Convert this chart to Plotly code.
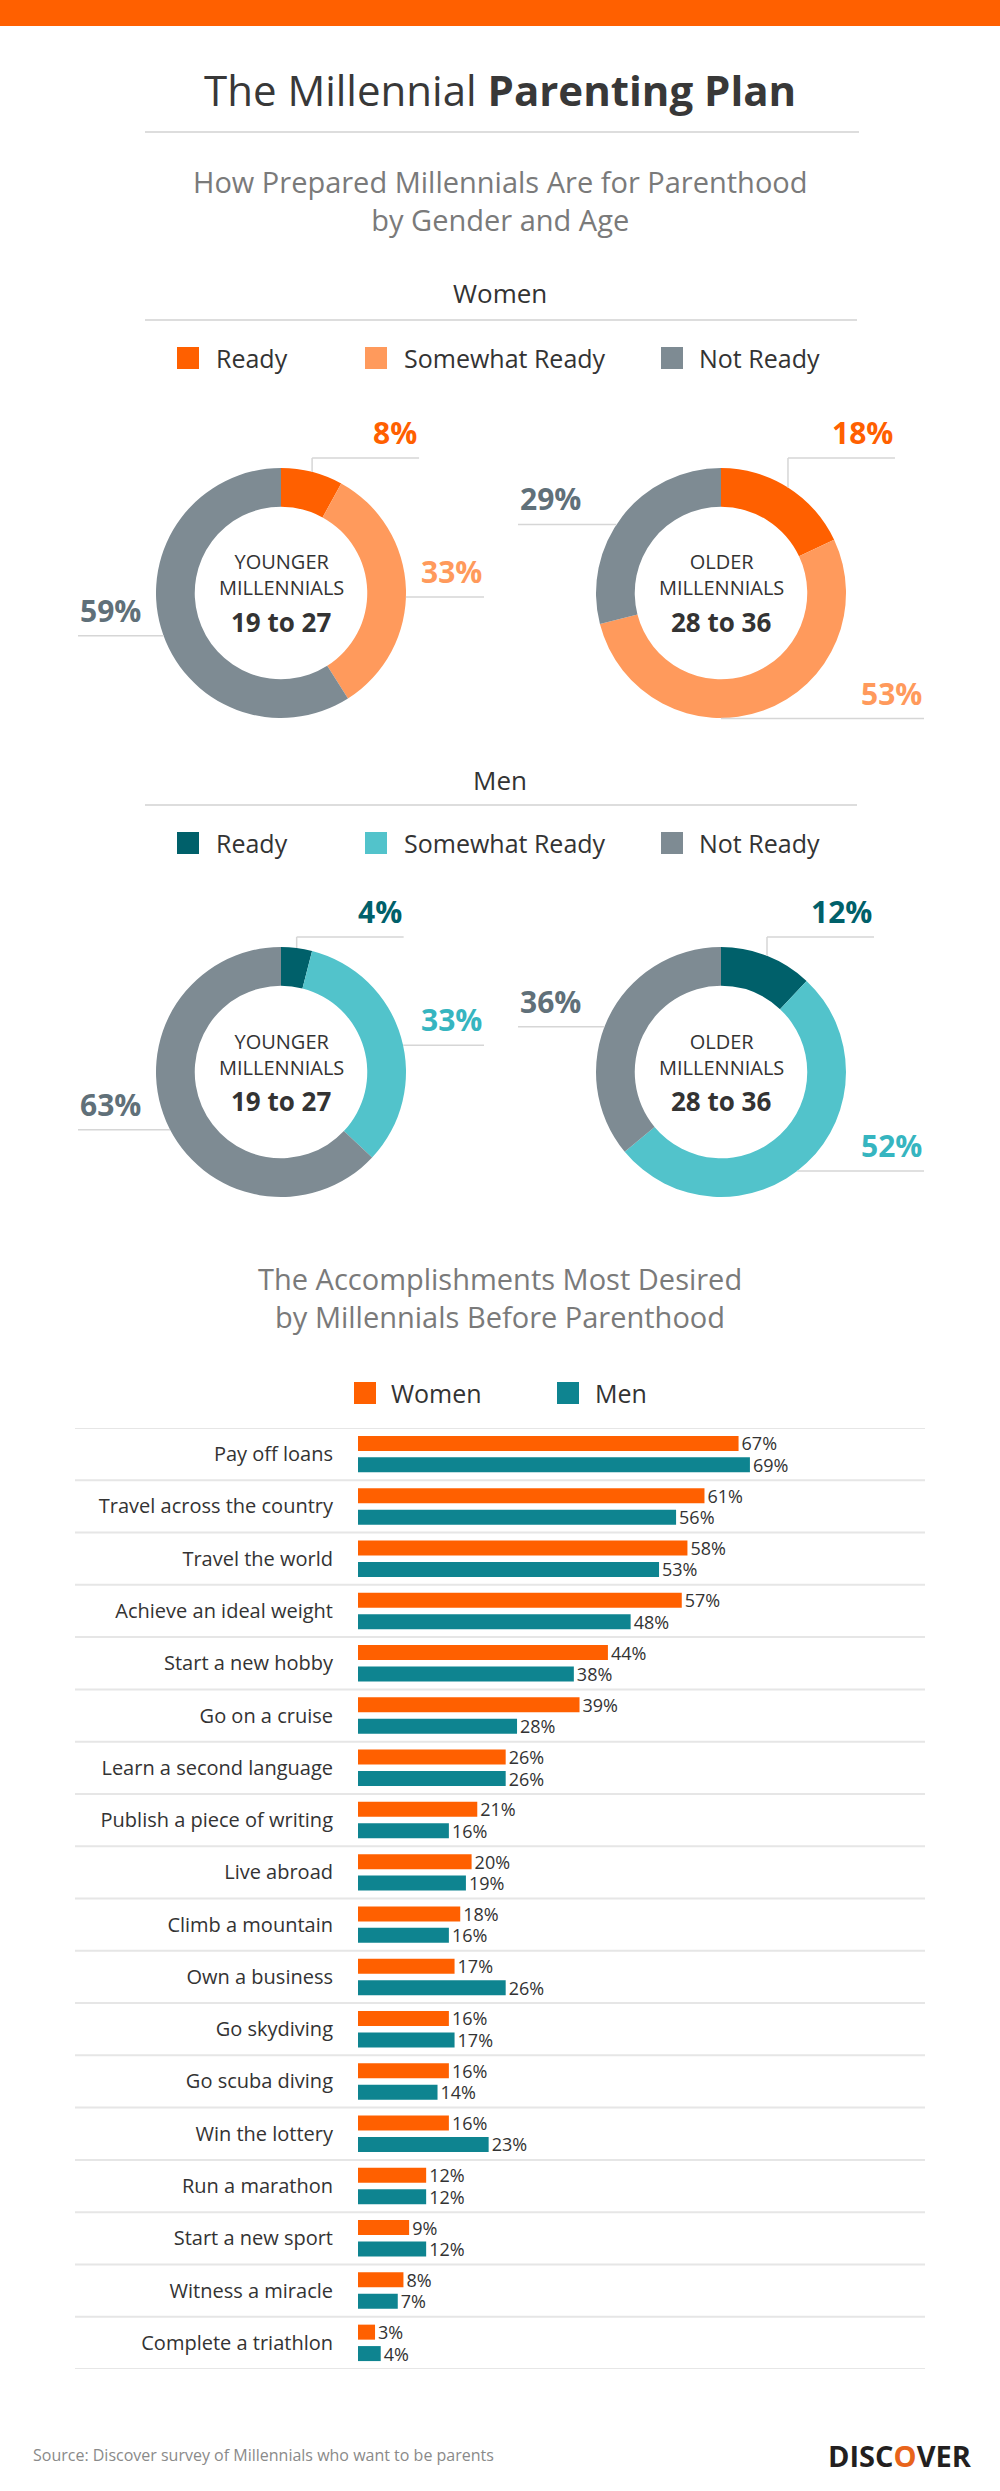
import math
import plotly.graph_objects as go

W, H = 1000, 2491

# ---------------- data ----------------
readiness = ["Ready", "Somewhat Ready", "Not Ready"]
women_younger = [8, 33, 59]
women_older = [18, 53, 29]
men_younger = [4, 33, 63]
men_older = [12, 52, 36]
group_names = ["YOUNGER<br>MILLENNIALS", "OLDER<br>MILLENNIALS"]
group_ages = ["19 to 27", "28 to 36"]

accomplishments = [
    "Pay off loans", "Travel across the country", "Travel the world",
    "Achieve an ideal weight", "Start a new hobby", "Go on a cruise",
    "Learn a second language", "Publish a piece of writing", "Live abroad",
    "Climb a mountain", "Own a business", "Go skydiving", "Go scuba diving",
    "Win the lottery", "Run a marathon", "Start a new sport",
    "Witness a miracle", "Complete a triathlon",
]
women_pct = [67, 61, 58, 57, 44, 39, 26, 21, 20, 18, 17, 16, 16, 16, 12, 9, 8, 3]
men_pct = [69, 56, 53, 48, 38, 28, 26, 16, 19, 16, 26, 17, 14, 23, 12, 12, 7, 4]

# ---------------- styles ----------------
FONT = "Open Sans"
ORANGE = "#FF6000"
ORANGE_LIGHT = "#FF9A5C"
GRAY = "#7E8B93"
GRAY_TEXT = "#607079"
TEAL_DARK = "#00606A"
TEAL_LIGHT = "#52C3CB"
TEAL_LIGHT_TEXT = "#36B5C0"
BAR_TEAL = "#0E8490"
DARK = "#333333"
MID = "#7A7A7A"
RULE = "#DDDDDD"
LEADER = "#D6D6D6"

women_colors = [ORANGE, ORANGE_LIGHT, GRAY]
women_text = [ORANGE, ORANGE_LIGHT, GRAY_TEXT]
men_colors = [TEAL_DARK, TEAL_LIGHT, GRAY]
men_text = [TEAL_DARK, TEAL_LIGHT_TEXT, GRAY_TEXT]


def px(x):
    return x / W


def py(y):
    return 1 - y / H


fig = go.Figure()
shapes = []
ann = []


def text(x, y, s, size, color=DARK, xanchor="center", yanchor="middle", family=FONT):
    ann.append(dict(x=px(x), y=py(y), xref="paper", yref="paper", text=s,
                    showarrow=False, xanchor=xanchor, yanchor=yanchor,
                    font=dict(family=family, size=size, color=color)))


def hline(x0, x1, y, color=RULE, width=2):
    shapes.append(dict(type="line", xref="paper", yref="paper",
                       x0=px(x0), x1=px(x1), y0=py(y), y1=py(y),
                       line=dict(color=color, width=width)))


def square(x, y, color, s=22):
    shapes.append(dict(type="rect", xref="paper", yref="paper",
                       x0=px(x), x1=px(x + s), y0=py(y - s / 2), y1=py(y + s / 2),
                       fillcolor=color, line=dict(width=0)))


# top orange band
shapes.append(dict(type="rect", xref="paper", yref="paper", x0=0, x1=1,
                   y0=py(26), y1=1, fillcolor=ORANGE, line=dict(width=0)))

# title
text(500, 90, "The Millennial <b>Parenting Plan</b>", 42, "#383838")
hline(145, 859, 132)
text(500, 200, "How Prepared Millennials Are for Parenthood<br>by Gender and Age", 29, MID)

# ---------------- donuts ----------------
R = 125
HOLE = 0.69


def legend_row(y, colors):
    xs = [(177, 214), (365, 402), (661, 697)]
    for (sx, tx), c, lab in zip(xs, colors, readiness):
        square(sx, y, c)
        text(tx, y, lab, 25, DARK, xanchor="left")


def donut(values, cx, cy, colors, tcolors, name, age):
    fig.add_trace(go.Pie(
        values=values, labels=readiness, sort=False, direction="clockwise",
        rotation=0, hole=HOLE, textinfo="none", hoverinfo="skip",
        marker=dict(colors=colors, line=dict(width=0)), showlegend=False,
        domain=dict(x=[px(cx - R), px(cx + R)], y=[py(cy + R), py(cy - R)]),
    ))
    text(cx, cy - 18, name, 20, DARK)
    text(cx, cy + 29, "<b>" + age + "</b>", 26, DARK)
    total = float(sum(values))
    cum = 0.0
    for v, tc in zip(values, tcolors):
        theta = (cum + v / 2) / total * 2 * math.pi
        cum += v
        ax = cx + R * math.sin(theta)
        ay = cy - R * math.cos(theta)
        lab = "<b>%d%%</b>" % v
        if math.degrees(theta) < 45:
            ytop = cy - R - 10
            shapes.append(dict(type="line", xref="paper", yref="paper",
                               x0=px(ax), x1=px(ax), y0=py(ay), y1=py(ytop),
                               line=dict(color=LEADER, width=1.5)))
            xend = ax + 107
            hline(ax, xend, ytop, LEADER, 1.5)
            text(xend, ytop - 3, lab, 30, tc, xanchor="right", yanchor="bottom")
        else:
            side = 1 if math.sin(theta) > 0 else -1
            yl = ay + 8
            dy = min(abs(yl - cy), R)
            xs = cx + side * math.sqrt(R * R - dy * dy)
            xend = cx + side * 203
            hline(xs, xend, yl, LEADER, 1.5)
            text(xend, yl - 3, lab, 30, tc,
                 xanchor="right" if side > 0 else "left", yanchor="bottom")


# Women
text(500, 293, "Women", 26, DARK)
hline(145, 857, 320)
legend_row(358, women_colors)
donut(women_younger, 281, 593, women_colors, women_text, group_names[0], group_ages[0])
donut(women_older, 721, 593, women_colors, women_text, group_names[1], group_ages[1])

# Men
text(500, 780, "Men", 26, DARK)
hline(145, 857, 805)
legend_row(843, men_colors)
donut(men_younger, 281, 1072, men_colors, men_text, group_names[0], group_ages[0])
donut(men_older, 721, 1072, men_colors, men_text, group_names[1], group_ages[1])

# ---------------- bars ----------------
text(500, 1297, "The Accomplishments Most Desired<br>by Millennials Before Parenthood", 29, MID)
square(354, 1393, ORANGE)
text(389, 1393, "Women", 25, DARK, xanchor="left")
square(557, 1393, BAR_TEAL)
text(593, 1393, "Men", 25, DARK, xanchor="left")

for vals, nm, col in [(women_pct, "Women", ORANGE), (men_pct, "Men", BAR_TEAL)]:
    fig.add_trace(go.Bar(
        y=accomplishments, x=vals, orientation="h", name=nm,
        marker=dict(color=col, line=dict(width=0)),
        texttemplate="%{x}%", textposition="outside", cliponaxis=False,
        constraintext="none",
        textfont=dict(family=FONT, size=18, color=DARK),
        xaxis="x", yaxis="y", showlegend=False, hoverinfo="skip",
    ))

n = len(accomplishments)
for i in range(n + 1):
    shapes.append(dict(type="line", xref="paper", yref="y",
                       x0=px(75), x1=px(925), y0=i - 0.5, y1=i - 0.5,
                       line=dict(color="#E6E6E6", width=2), layer="below"))

# footer
text(31, 2455, "Source: Discover survey of Millennials who want to be parents", 16, "#8A8A8A",
     xanchor="left")
text(974, 2455, "<b>DISC<span style='color:#E8641B'>O</span>VER</b>", 29, "#231F20",
     xanchor="right")

fig.update_layout(
    width=W, height=H, margin=dict(l=0, r=0, t=0, b=0),
    paper_bgcolor="white", plot_bgcolor="white",
    font=dict(family=FONT, color=DARK),
    barmode="group", bargap=0.18, bargroupgap=0.3,
    xaxis=dict(domain=[px(358), px(926)], range=[0, 100], visible=False,
               fixedrange=True),
    yaxis=dict(domain=[py(2369), py(1428)], range=[n - 0.5, -0.5],
               type="category", categoryorder="array", categoryarray=accomplishments,
               showgrid=False, zeroline=False, showline=False, ticks="",
               ticklabelstandoff=24, tickfont=dict(family=FONT, size=20, color=DARK),
               fixedrange=True),
    shapes=shapes, annotations=ann,
)

fig.write_html("out.html", config={"displayModeBar": False},
               post_script="document.body.style.margin='0px';")
